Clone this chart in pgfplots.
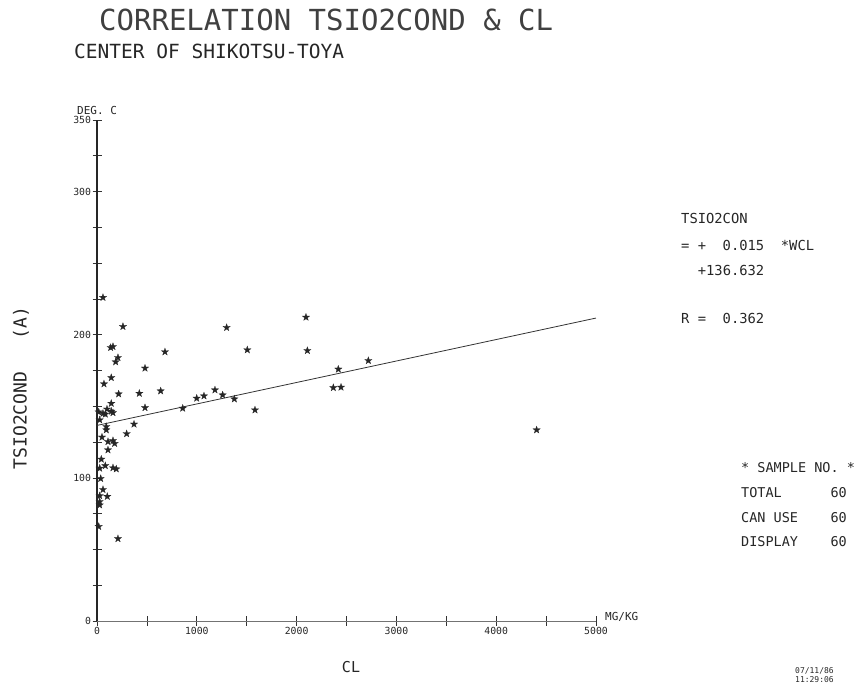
\documentclass[border=0pt]{standalone}
\usepackage{pgfplots}
\pgfplotsset{compat=1.18}
\usepackage{fontspec}
\setmainfont{DejaVu Sans Mono}
\pgfdeclareplotmark{fstar}{%
 \pgfpathmoveto{\pgfpoint{0pt}{\pgfplotmarksize}}%
 \pgfpathlineto{\pgfpoint{0.235\pgfplotmarksize}{0.324\pgfplotmarksize}}%
 \pgfpathlineto{\pgfpoint{0.951\pgfplotmarksize}{0.309\pgfplotmarksize}}%
 \pgfpathlineto{\pgfpoint{0.380\pgfplotmarksize}{-0.124\pgfplotmarksize}}%
 \pgfpathlineto{\pgfpoint{0.588\pgfplotmarksize}{-0.809\pgfplotmarksize}}%
 \pgfpathlineto{\pgfpoint{0pt}{-0.4\pgfplotmarksize}}%
 \pgfpathlineto{\pgfpoint{-0.588\pgfplotmarksize}{-0.809\pgfplotmarksize}}%
 \pgfpathlineto{\pgfpoint{-0.380\pgfplotmarksize}{-0.124\pgfplotmarksize}}%
 \pgfpathlineto{\pgfpoint{-0.951\pgfplotmarksize}{0.309\pgfplotmarksize}}%
 \pgfpathlineto{\pgfpoint{-0.235\pgfplotmarksize}{0.324\pgfplotmarksize}}%
 \pgfpathclose\pgfusepathqfillstroke}
\begin{document}
\begin{tikzpicture}
\path[use as bounding box] (0,0) rectangle (861pt,685pt);
\begin{axis}[
 at={(97pt,64pt)}, anchor=south west,
 scale only axis, width=499pt, height=501pt,
 xmin=0, xmax=5000, ymin=0, ymax=350,
 axis lines=left, axis line style={-},
 x axis line style={black!55, line width=0.5pt},
 y axis line style={black!85, line width=1.1pt},
 xtick={0,1000,2000,3000,4000,5000},
 minor xtick={500,1500,2500,3500,4500},
 ytick={0,100,200,300,350},
 minor ytick={25,50,75,125,150,175,225,250,275,325},
 tick align=center, major tick length=9pt, minor tick length=9pt,
 tick style={black!80, line width=0.7pt},
 scaled x ticks=false,
 /pgf/number format/assume math mode=true,
 /pgf/number format/set thousands separator={},
 tick label style={font=\fontsize{9.8}{10}\selectfont, text=black!85},
 yticklabel style={xshift=2pt},
 xticklabel style={yshift=2pt},
 clip=false,
]
\addplot[only marks, mark=fstar, mark size=3.9pt, mark options={fill=black!85, draw=black!85, line width=0.2pt}] coordinates {
(60,226) (260,205.7) (1299,205) (2094,212.2) (137,191) (160,191.7)
(681,188) (1506,189.4) (2108,188.9) (210,184) (187,181) (2719,181.9)
(481,176.6) (2418,175.9) (143,170) (70,165.6) (2368,163) (2445,163.3)
(217,158.6) (424,159) (638,160.7) (1182,161.4) (1259,157.9) (999,155.6)
(1072,157.2) (1376,155.1) (143,152) (481,149) (859,148.6) (1583,147.4)
(17,146) (60,145) (83,144.5) (143,146.5) (160,145.5) (100,148)
(27,140.5) (93,135.8) (93,133.5) (371,137.5) (297,130.8) (50,128.4)
(110,125.3) (160,126) (177,124) (110,119.5) (43,113) (27,106.7)
(83,108.5) (160,107) (193,106.2) (37,99.5) (60,91.8) (27,87.5)
(103,87) (27,83.4) (27,81) (17,66) (210,57.5) (4405,133.5)
};
\addplot[black!80, line width=0.8pt] coordinates {(0,136.632) (5000,211.632)};
\end{axis}
\begin{scope}[every node/.style={inner sep=0pt, text=black!85}]
\node[anchor=base west, font=\fontsize{29}{32}\selectfont, text=black!75] at (99pt,654pt) {CORRELATION TSIO2COND \& CL};
\node[anchor=base west, font=\fontsize{19.5}{22}\selectfont] at (74pt,626pt) {CENTER OF SHIKOTSU-TOYA};
\node[anchor=west, font=\fontsize{11}{12}\selectfont] at (77pt,574pt) {DEG. C};
\node[anchor=west, font=\fontsize{11}{12}\selectfont] at (605pt,68pt) {MG/KG};
\node[rotate=90, font=\fontsize{18}{19}\selectfont] at (21pt,297pt) {TSIO2COND\ \ \ (A)};
\node[font=\fontsize{15}{16}\selectfont] at (351pt,18pt) {CL};
\begin{scope}[every node/.append style={anchor=west, font=\fontsize{13.8}{15}\selectfont}]
\node at (681pt,467pt) {TSIO2CON};
\node at (681pt,440pt) {=\ +\ \ 0.015\ \ *WCL};
\node at (681pt,415pt) {\ \ +136.632};
\node at (681pt,367pt) {R =\ \ 0.362};
\end{scope}
\begin{scope}[every node/.append style={anchor=west, font=\fontsize{13.5}{15}\selectfont}]
\node at (741pt,217pt) {* SAMPLE NO. *};
\node at (741pt,192pt) {TOTAL\ \ \ \ \ \ 60};
\node at (741pt,167pt) {CAN USE\ \ \ \ 60};
\node at (741pt,143pt) {DISPLAY\ \ \ \ 60};
\end{scope}
\node[anchor=west, font=\fontsize{8}{9}\selectfont] at (795pt,14pt) {07/11/86};
\node[anchor=west, font=\fontsize{8}{9}\selectfont] at (795pt,5pt) {11:29:06};
\end{scope}
\end{tikzpicture}
\end{document}
